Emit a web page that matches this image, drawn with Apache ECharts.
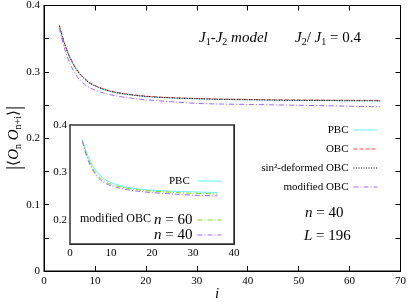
<!DOCTYPE html>
<html><head><meta charset="utf-8">
<script src="https://cdn.jsdelivr.net/npm/echarts@6/dist/echarts.min.js"></script>
<style>html,body{margin:0;padding:0;background:#fff}#c{width:409px;height:307px}</style>
</head><body><div id="c"></div>
<script>
// ---- data ----
const iMain = [3,4,5,6,7,8,9,10,12,14,16,18,20,23,26,30,35,40,45,50,55,60,66];
const pbcMain = [0.369,0.343,0.323,0.308,0.297,0.289,0.283,0.279,0.273,0.269,0.2665,0.2645,0.263,0.2615,0.2605,0.2595,0.2585,0.258,0.2575,0.257,0.257,0.2565,0.2565];
const obcMain = [0.371,0.344,0.324,0.309,0.298,0.290,0.284,0.2795,0.2735,0.2695,0.267,0.265,0.2635,0.262,0.261,0.260,0.259,0.2585,0.258,0.2578,0.2575,0.2573,0.257];
const sinMain = [0.369,0.343,0.323,0.308,0.297,0.289,0.283,0.279,0.273,0.269,0.2665,0.2645,0.263,0.2615,0.2605,0.2595,0.2585,0.258,0.2575,0.257,0.2568,0.2565,0.2563];
const modMain = [0.366,0.336,0.314,0.299,0.288,0.281,0.276,0.2725,0.2675,0.264,0.2615,0.2595,0.258,0.2562,0.2545,0.2525,0.2515,0.251,0.2503,0.2497,0.249,0.2483,0.2475];
const iInset = [3,4,5,6,7,8,9,10,12,14,16,18,20,23,26,30,36];
const pbcInset = [0.369,0.343,0.323,0.308,0.297,0.289,0.283,0.279,0.273,0.269,0.2665,0.2645,0.263,0.2615,0.2605,0.2595,0.258];
const mod60Inset = [0.367,0.339,0.318,0.303,0.292,0.2845,0.279,0.2755,0.2705,0.267,0.2645,0.2625,0.261,0.2595,0.258,0.2565,0.2552];
const mod40Inset = [0.366,0.336,0.314,0.299,0.288,0.281,0.276,0.2725,0.2675,0.264,0.2615,0.2595,0.258,0.2562,0.2545,0.2525,0.2513];
const xTicksMain = [0,10,20,30,40,50,60,70];
const yTicksMain = ['0','0.1','0.2','0.3','0.4'];
const xTicksInset = [0,10,20,30,40];
const yTicksInset = ['0.2','0.3','0.4'];

const F = 'Liberation Serif';
const C = { pbc: '#5ff0f0', obc: '#ff4a4a', sin: '#000000', mod: '#9966ff', n60: '#77dd11' };
const D = { pbc: 'solid', obc: [4, 2], sin: [1, 1.5], mod: [5, 2, 1, 2] };
const pairs = (xs, ys) => xs.map((x, k) => [x, ys[k]]);
const yFmt = v => { const r = Math.round(v * 100); if (r % 10 !== 0) return ''; return r === 0 ? '0' : (r / 100).toFixed(1); };

function xAx(grid, max, pos, labels, margin) {
  return { type: 'value', gridIndex: grid, min: 0, max: max, interval: 10, position: pos,
    axisLine: { show: true, onZero: false, lineStyle: { color: '#000', width: 1 } },
    axisTick: { show: true, inside: true, length: 5, lineStyle: { color: '#000' } },
    axisLabel: { show: labels, color: '#000', fontFamily: F, fontSize: 11, margin: margin },
    splitLine: { show: false } };
}
function yAx(grid, min, max, pos, labels, margin) {
  return { type: 'value', gridIndex: grid, min: min, max: max, interval: 0.05, position: pos,
    axisLine: { show: true, onZero: false, lineStyle: { color: '#000', width: 1 } },
    axisTick: { show: true, inside: true, length: 5, lineStyle: { color: '#000' } },
    axisLabel: { show: labels, color: '#000', fontFamily: F, fontSize: 11, margin: margin, formatter: yFmt },
    splitLine: { show: false } };
}
function line(name, xi, yi, xs, ys, color, type, z) {
  return { name: name, type: 'line', xAxisIndex: xi, yAxisIndex: yi, data: pairs(xs, ys),
    showSymbol: false, symbol: 'none', smooth: 0.3, z: z || 2, animation: false,
    lineStyle: { color: color, width: 1, type: type }, itemStyle: { color: color } };
}
const li = (name, color, type) => ({ name: name, itemStyle: { opacity: 0 }, lineStyle: { color: color, type: type, width: 1, opacity: 1 } });
const legendCommon = { orient: 'vertical', align: 'right', itemWidth: 24, itemHeight: 10, selectedMode: false,
  itemStyle: { opacity: 0 } };
const sub = { fontSize: 10, fontFamily: F, padding: [7, 0, 0, 0], fill: '#000' };
const it = { fontSize: 15, fontFamily: F, fontStyle: 'italic', fill: '#000' };
const rm = { fontSize: 15, fontFamily: F, fill: '#000' };

const chart = echarts.init(document.getElementById('c'), null, { renderer: 'canvas' });
chart.setOption({
  animation: false,
  backgroundColor: '#fff',
  grid: [
    { left: 44, top: 4, width: 358, height: 267, show: true, borderColor: '#000', borderWidth: 1, backgroundColor: 'transparent' },
    { left: 70, top: 125, width: 164, height: 119, show: true, borderColor: '#333', borderWidth: 1.5, backgroundColor: '#fff', z: 3 }
  ],
  xAxis: [ xAx(0, 70, 'bottom', true, 5), xAx(0, 70, 'top', false, 5), xAx(1, 40, 'bottom', true, 4), xAx(1, 40, 'top', false, 4) ],
  yAxis: [ yAx(0, 0, 0.4, 'left', true, 4), yAx(0, 0, 0.4, 'right', false, 4), yAx(1, 0.15, 0.4, 'left', true, 3), yAx(1, 0.15, 0.4, 'right', false, 3) ],
  legend: [
    Object.assign({}, legendCommon, { data: [li('PBC', C.pbc, D.pbc), li('OBC', C.obc, D.obc), li('sin²-deformed OBC', C.sin, D.sin), li('modified OBC', C.mod, D.mod)],
      right: 26, top: 118.5, itemGap: 6,
      textStyle: { fontFamily: F, fontSize: 11, color: '#000', lineHeight: 13 } }),
    Object.assign({}, legendCommon, { data: [li('PBC ', C.pbc, D.pbc)], right: 182, top: 169.5,
      textStyle: { fontFamily: F, fontSize: 11, color: '#000', lineHeight: 13 } }),
    Object.assign({}, legendCommon, { data: [li('n = 60', C.n60, D.mod), li('n = 40', C.mod, D.mod)], right: 182, top: 207.5, itemGap: 0,
      formatter: n => '{i|n}{r|' + n.slice(1) + '}',
      textStyle: { fontFamily: F, fontSize: 15, color: '#000', lineHeight: 15,
        rich: { i: { fontFamily: F, fontSize: 15, fontStyle: 'italic', lineHeight: 15 }, r: { fontFamily: F, fontSize: 15, lineHeight: 15 } } } })
  ],
  series: [
    line('PBC', 0, 0, iMain, pbcMain, C.pbc, D.pbc),
    line('OBC', 0, 0, iMain, obcMain, C.obc, D.obc),
    line('sin²-deformed OBC', 0, 0, iMain, sinMain, C.sin, D.sin),
    line('modified OBC', 0, 0, iMain, modMain, C.mod, D.mod),
    line('PBC ', 2, 2, iInset, pbcInset, C.pbc, D.pbc, 5),
    line('n = 60', 2, 2, iInset, mod60Inset, C.n60, D.mod, 5),
    line('n = 40', 2, 2, iInset, mod40Inset, C.mod, D.mod, 5)
  ],
  graphic: [
    { type: 'text', left: 199, top: 31, z: 10, style: { text: '{i|J}{s|1}{r|-}{i|J}{s|2}{i| model}', rich: { i: it, s: sub, r: rm } } },
    { type: 'text', left: 295, top: 31, z: 10, style: { text: '{i|J}{s|2}{r|/ }{i|J}{s|1}{r| = 0.4}', rich: { i: it, s: sub, r: rm } } },
    { type: 'text', left: 305, top: 206, z: 10, style: { text: '{i|n}{r| = 40}', rich: { i: it, r: rm } } },
    { type: 'text', left: 304, top: 229, z: 10, style: { text: '{i|L}{r| = 196}', rich: { i: it, r: rm } } },
    { type: 'text', left: 80, top: 213, z: 10, style: { text: 'modified OBC', fontFamily: F, fontSize: 12, fill: '#000' } },
    { type: 'text', left: 215, top: 287, z: 10, style: { text: 'i', fontFamily: F, fontStyle: 'italic', fontSize: 15, fill: '#000' } },
    { type: 'text', x: 4, y: 170, rotation: Math.PI / 2, z: 10,
      style: { text: '{b||}{r|⟨}{i|O}{s|n}{i| O}{s|n+i}{r|⟩}{b||}', rich: { i: it, s: sub, r: rm, b: { fontSize: 21, fontFamily: F, fill: '#000' } } } }
  ]
});
</script></body></html>
